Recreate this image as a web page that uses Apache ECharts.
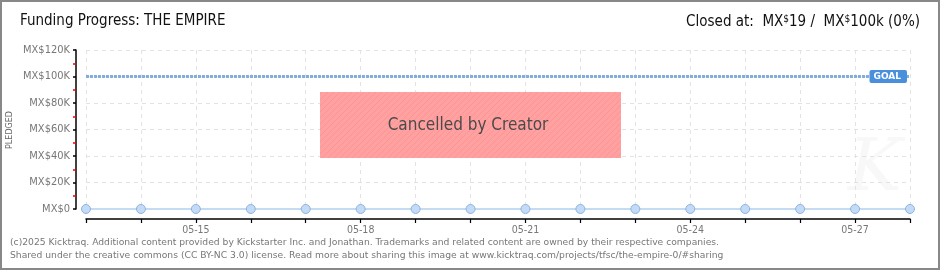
<!DOCTYPE html>
<html><head><meta charset="utf-8">
<script src="https://cdn.jsdelivr.net/npm/echarts@6/dist/echarts.min.js"></script>
<style>html,body{margin:0;padding:0;background:#fff}#c{width:940px;height:270px}</style>
</head><body><div id="c"></div>
<script>
const categories = ['05-13','05-14','05-15','05-16','05-17','05-18','05-19','05-20','05-21','05-22','05-23','05-24','05-25','05-26','05-27','05-28'];
const pledged = [0,19,19,19,19,19,19,19,19,19,19,19,19,19,19,19];
const goal = 100000;
const yTicks = [0,20000,40000,60000,80000,100000,120000];
const titleText = 'Funding Progress: THE EMPIRE';
const yName = 'PLEDGED';
const statusText = 'Cancelled by Creator';
const footer1 = '(c)2025 Kicktraq. Additional content provided by Kickstarter Inc. and Jonathan. Trademarks and related content are owned by their respective companies.';
const footer2 = 'Shared under the creative commons (CC BY-NC 3.0) license. Read more about sharing this image at www.kicktraq.com/projects/tfsc/the-empire-0/#sharing';

const pc = document.createElement('canvas'); pc.width = 6; pc.height = 6;
const g = pc.getContext('2d');
g.fillStyle = '#ffa1a1'; g.fillRect(0,0,6,6);
g.strokeStyle = '#ff9393'; g.lineWidth = 1;
g.beginPath(); g.moveTo(0,6); g.lineTo(6,0); g.moveTo(-3,3); g.lineTo(3,-3); g.moveTo(3,9); g.lineTo(9,3); g.stroke();

const chart = echarts.init(document.getElementById('c'), null, {renderer:'canvas'});
const titleFont = '"DejaVu Sans Condensed",sans-serif';
chart.setOption({
  animation:false,
  grid:{left:86,right:30,top:50,bottom:61,containLabel:false,outerBoundsMode:'none'},
  xAxis:{type:'category',data:categories,boundaryGap:false,offset:10,
    axisLine:{show:true,onZero:false,lineStyle:{color:'#000',width:1.5}},
    axisTick:{show:true,interval:0,length:4,lineStyle:{color:'#000',width:1.2}},
    axisLabel:{interval:(i)=>i%3===2,color:'#777',fontSize:10.5,margin:6,fontFamily:'"DejaVu Sans Condensed",sans-serif'},
    splitLine:{show:true,interval:0,lineStyle:{color:'#e3e3e3',type:[4,4]}}},
  yAxis:{type:'value',min:0,max:120000,interval:20000,offset:10,
    axisLine:{show:true,onZero:false,lineStyle:{color:'#000',width:1.5}},
    axisTick:{show:true,length:3,inside:false,lineStyle:{color:'#000',width:1.5}},
    minorTick:{show:true,splitNumber:2,length:3,lineStyle:{color:'#e00',width:1.5}},
    axisLabel:{color:'#777',fontSize:11,margin:6,fontFamily:'"DejaVu Sans Condensed",sans-serif',
      formatter:(v)=> yTicks.includes(v) ? 'MX$' + (v===0?'0':(v/1000)+'K') : ''},
    splitLine:{show:true,lineStyle:{color:'#e3e3e3',type:[4,4]}}},
  series:[{type:'line',data:pledged,symbol:'circle',symbolSize:9,
    lineStyle:{color:'#c4dbf3',width:2},
    itemStyle:{color:'#c3dbf6',borderColor:'#8fb3dc',borderWidth:1},
    markLine:{silent:true,symbol:'none',data:[{yAxis:goal}],
      lineStyle:{color:'#86acd9',type:[3,1],width:3},
      label:{show:true,position:'insideEnd',formatter:'GOAL',color:'#fff',backgroundColor:'#4a8fdb',
        fontSize:9,fontWeight:'bold',padding:[2,6,2,4],borderRadius:2,distance:3,fontFamily:'"DejaVu Sans",sans-serif'}}}],
  graphic:[
    {type:'rect',shape:{x:1,y:1,width:938,height:268},style:{fill:'none',stroke:'#888',lineWidth:2},z:100},
    {type:'text',left:20,top:14,style:{text:titleText,fontSize:15,fill:'#111',fontFamily:titleFont}},
    {type:'text',right:20,top:14,style:{text:'Closed at:  MX{s|$}19 /  MX{s|$}100k (0%)',fontSize:15,fill:'#111',fontFamily:titleFont,
      rich:{s:{fontSize:10,verticalAlign:'top',fontFamily:titleFont,fill:'#111',padding:[0,0,6,0]}}}},
    {type:'text',x:10,y:130,rotation:Math.PI/2,style:{text:yName,fontSize:8,fill:'#666',align:'center',verticalAlign:'middle',fontFamily:'"DejaVu Sans",sans-serif'}},
    {type:'text',x:848,y:135,style:{text:'K',fontSize:72,fontStyle:'italic',fill:'#f8f8f8',fontFamily:'"DejaVu Serif",serif'},z:-1},
    {type:'rect',shape:{x:320,y:92,width:301,height:66},style:{fill:{image:pc,repeat:'repeat'}},z:50},
    {type:'text',x:468,y:126,style:{text:statusText,fontSize:17,fill:'#4a4a4a',align:'center',verticalAlign:'middle',
      fontFamily:titleFont,textShadowColor:'#fff',textShadowOffsetX:1,textShadowOffsetY:1,textShadowBlur:0},z:51},
    {type:'text',left:10,top:238,style:{text:footer1,fontSize:9.2,fill:'#777',fontFamily:'"DejaVu Sans",sans-serif'}},
    {type:'text',left:10,top:251,style:{text:footer2,fontSize:9.2,fill:'#777',fontFamily:'"DejaVu Sans",sans-serif'}}
  ]
});
</script></body></html>
